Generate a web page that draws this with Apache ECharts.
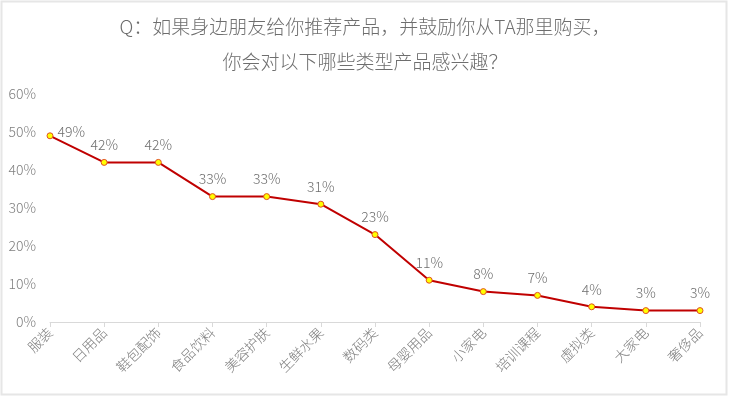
<!DOCTYPE html>
<html><head><meta charset="utf-8">
<script src="https://cdn.jsdelivr.net/npm/echarts@6/dist/echarts.min.js"></script>
<style>html,body{margin:0;padding:0;background:#fff}#c{width:730px;height:399px}</style>
</head><body><div id="c"></div>
<script>
const categories = ['服装','日用品','鞋包配饰','食品饮料','美容护肤','生鲜水果','数码类','母婴用品','小家电','培训课程','虚拟类','大家电','奢侈品'];
const values = [49,42,42,33,33,31,23,11,8,7,4,3,3];
const titleLines = ['Q：如果身边朋友给你推荐产品，并鼓励你从TA那里购买，','你会对以下哪些类型产品感兴趣？'];
const yMin = 0, yMax = 60, yInterval = 10;

const chart = echarts.init(document.getElementById('c'));
const font = '"Noto Sans CJK SC", "Noto Sans", sans-serif';
const seriesData = values.map((v, i) => i === 0
  ? {value: v, label: {position: 'right', offset: [-3, -4]}}
  : v);
chart.setOption({
  animation: false,
  textStyle: {fontFamily: font},
  graphic: [{type:'rect', shape:{x:1.5,y:1.5,width:725,height:393}, style:{fill:'none', stroke:'#e6e6e6', lineWidth:2}, silent:true}],
  title: {
    text: titleLines.join('\n'), left: 'center', top: 4,
    textStyle: {fontSize: 19, fontWeight: 300, color: '#6e6e6e', lineHeight: 35, fontFamily: font}
  },
  grid: {left: 50, right: 30, top: 94, bottom: 77, containLabel: false},
  xAxis: {
    type: 'category', data: categories, boundaryGap: false,
    axisLine: {lineStyle: {color: '#d9d9d9'}},
    axisTick: {show: true, alignWithLabel: true, lineStyle: {color: '#d9d9d9'}, length: 5},
    axisLabel: {rotate: 45, color: '#808080', fontSize: 14, fontWeight: 300, margin: 8, interval: 0}
  },
  yAxis: {
    type: 'value', min: yMin, max: yMax, interval: yInterval,
    axisLine: {show: false}, axisTick: {show: false}, splitLine: {show: false},
    axisLabel: {formatter: '{value}%', color: '#808080', fontSize: 14, fontWeight: 300, margin: 14}
  },
  series: [{
    type: 'line', data: seriesData,
    lineStyle: {color: '#c00000', width: 2},
    itemStyle: {color: '#ffff00', borderColor: '#e05020', borderWidth: 1},
    symbol: 'circle', symbolSize: 6, showAllSymbol: true,
    label: {show: true, position: 'top', formatter: '{c}%', color: '#6e6e6e', fontSize: 14, fontWeight: 300, distance: 7}
  }]
});
</script></body></html>
